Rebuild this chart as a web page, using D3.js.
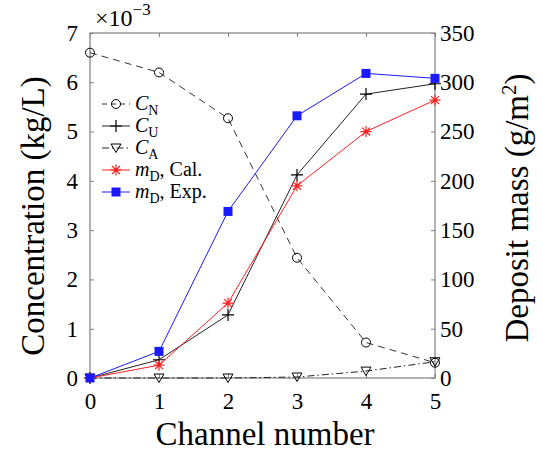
<!DOCTYPE html>
<html>
<head>
<meta charset="utf-8">
<script src="https://cdn.jsdelivr.net/npm/d3@7"></script>
<style>
  body { margin: 0; background: #fff; }
  svg { display: block; font-family: "Liberation Serif", "Times New Roman", serif; }
</style>
</head>
<body>
<div id="chart"></div>
<script>
// channel numbers
const channels = [0, 1, 2, 3, 4, 5];
// concentrations, x 10^-3 kg/L (left axis)
const cN = [6.6, 6.2, 5.27, 2.44, 0.72, 0.31];
const cU = [0, 0.37, 1.28, 4.12, 5.76, 5.97];
const cA = [0, 0, 0, 0.02, 0.14, 0.33];
// deposit mass, g/m^2 (right axis)
const mdCal = [0, 13, 76, 195, 250, 282];
const mdExp = [0, 27, 169, 266, 309, 304];

const xTicks = [0, 1, 2, 3, 4, 5];
const yLeftTicks = [0, 1, 2, 3, 4, 5, 6, 7];
const yRightTicks = [0, 50, 100, 150, 200, 250, 300, 350];

const W = 543, H = 453;
const m = { left: 90, right: 435, top: 33, bottom: 378 };

const svg = d3.select('#chart').append('svg')
  .attr('width', W)
  .attr('height', H);

const x = d3.scaleLinear().domain([0, 5]).range([m.left, m.right]);
const yL = d3.scaleLinear().domain([0, 7]).range([m.bottom, m.top]);
const yR = d3.scaleLinear().domain([0, 350]).range([m.bottom, m.top]);

const axisColor = '#808080';
const tickLen = 4;

// Axes (ticks inward, matlab style)
const styleAxis = (g) => {
  g.attr('font-family', null);
  g.select('.domain').remove();
  g.selectAll('.tick line').attr('stroke', axisColor);
  g.selectAll('.tick text').attr('fill', '#000').attr('font-size', 23);
};

svg.append('g')
  .attr('transform', `translate(0,${m.bottom})`)
  .call(d3.axisBottom(x).tickValues(xTicks).tickFormat(d3.format('d'))
    .tickSizeInner(-tickLen).tickSizeOuter(0).tickPadding(15))
  .call(styleAxis);

svg.append('g')
  .attr('transform', `translate(0,${m.top})`)
  .call(d3.axisTop(x).tickValues(xTicks).tickFormat('')
    .tickSizeInner(-tickLen).tickSizeOuter(0))
  .call(styleAxis);

svg.append('g')
  .attr('transform', `translate(${m.left},0)`)
  .call(d3.axisLeft(yL).tickValues(yLeftTicks).tickFormat(d3.format('d'))
    .tickSizeInner(-tickLen).tickSizeOuter(0).tickPadding(12))
  .call(styleAxis);

svg.append('g')
  .attr('transform', `translate(${m.right},0)`)
  .call(d3.axisRight(yR).tickValues(yRightTicks).tickFormat(d3.format('d'))
    .tickSizeInner(-tickLen).tickSizeOuter(0).tickPadding(5))
  .call(styleAxis);

// box
svg.append('rect')
  .attr('x', m.left).attr('y', m.top)
  .attr('width', m.right - m.left).attr('height', m.bottom - m.top)
  .attr('fill', 'none').attr('stroke', axisColor).attr('stroke-width', 1.2);

// Series
const series = [
  { key: 'cN', vals: cN, y: yL, color: '#333', dash: '7,5', marker: 'circle' },
  { key: 'cU', vals: cU, y: yL, color: '#222', dash: null, marker: 'plus' },
  { key: 'cA', vals: cA, y: yL, color: '#222', dash: '7,3,1.5,3', marker: 'tri' },
  { key: 'mdCal', vals: mdCal, y: yR, color: '#ff2020', dash: null, marker: 'star' },
  { key: 'mdExp', vals: mdExp, y: yR, color: '#1a1aff', dash: null, marker: 'square' },
];

function drawMarker(g, type, cx, cy, color) {
  if (type === 'circle') {
    g.append('circle').attr('cx', cx).attr('cy', cy).attr('r', 4.5)
      .attr('fill', 'none').attr('stroke', '#000').attr('stroke-width', 1);
  } else if (type === 'plus') {
    g.append('path').attr('d', `M${cx - 6},${cy}H${cx + 6}M${cx},${cy - 6}V${cy + 6}`)
      .attr('stroke', '#000').attr('stroke-width', 1.2);
  } else if (type === 'tri') {
    g.append('path').attr('d', `M${cx - 5},${cy - 4}L${cx + 5},${cy - 4}L${cx},${cy + 4.5}Z`)
      .attr('fill', 'none').attr('stroke', '#000').attr('stroke-width', 1);
  } else if (type === 'star') {
    const r = 5.5, d = r * 0.72;
    g.append('path')
      .attr('d', `M${cx - r},${cy}H${cx + r}M${cx},${cy - r}V${cy + r}M${cx - d},${cy - d}L${cx + d},${cy + d}M${cx - d},${cy + d}L${cx + d},${cy - d}`)
      .attr('stroke', color).attr('stroke-width', 1.2);
  } else if (type === 'square') {
    g.append('rect').attr('x', cx - 4.5).attr('y', cy - 4.5).attr('width', 9).attr('height', 9)
      .attr('fill', color);
  }
}

const plot = svg.append('g');
series.forEach(s => {
  const line = d3.line().x((d, i) => x(channels[i])).y(d => s.y(d));
  plot.append('path')
    .datum(s.vals)
    .attr('d', line)
    .attr('fill', 'none')
    .attr('stroke', s.color)
    .attr('stroke-width', 1)
    .attr('stroke-dasharray', s.dash);
  const mg = plot.append('g');
  s.vals.forEach((v, i) => drawMarker(mg, s.marker, x(channels[i]), s.y(v), s.color));
});

// Legend
const legendItems = [
  { s: series[0], main: 'C', sub: 'N', rest: '' },
  { s: series[1], main: 'C', sub: 'U', rest: '' },
  { s: series[2], main: 'C', sub: 'A', rest: '' },
  { s: series[3], main: 'm', sub: 'D', rest: ', Cal.' },
  { s: series[4], main: 'm', sub: 'D', rest: ', Exp.' },
];
const lg = svg.append('g');
legendItems.forEach((it, i) => {
  const ly = 104 + i * 22;
  lg.append('line').attr('x1', 102).attr('x2', 130).attr('y1', ly).attr('y2', ly)
    .attr('stroke', it.s.color).attr('stroke-width', 1)
    .attr('stroke-dasharray', it.s.key === 'cN' ? '5,4' : it.s.dash);
  drawMarker(lg, it.s.marker, 116, ly, it.s.color);
  const t = lg.append('text').attr('x', 135).attr('y', ly + 6).attr('font-size', 20);
  t.append('tspan').attr('font-style', 'italic').text(it.main);
  t.append('tspan').attr('font-size', 14).attr('dy', 5).text(it.sub);
  if (it.rest) t.append('tspan').attr('dy', -5).text(it.rest);
});

// Exponent label
const ex = svg.append('text').attr('x', 95).attr('y', 26).attr('font-size', 24);
ex.append('tspan').text('\u00d710');
ex.append('tspan').attr('font-size', 17).attr('dy', -11).text('\u22123');

// Axis titles
svg.append('text')
  .attr('x', 265).attr('y', 445)
  .attr('text-anchor', 'middle').attr('font-size', 33)
  .text('Channel number');

svg.append('text')
  .attr('transform', 'translate(44,216) rotate(-90)')
  .attr('text-anchor', 'middle').attr('font-size', 33)
  .text('Concentration (kg/L)');

const rt = svg.append('text')
  .attr('transform', 'translate(528,208) rotate(-90)')
  .attr('text-anchor', 'middle').attr('font-size', 33);
rt.append('tspan').text('Deposit mass (g/m');
rt.append('tspan').attr('font-size', 21).attr('dy', -12).text('2');
rt.append('tspan').attr('dy', 12).text(')');
</script>
</body>
</html>
